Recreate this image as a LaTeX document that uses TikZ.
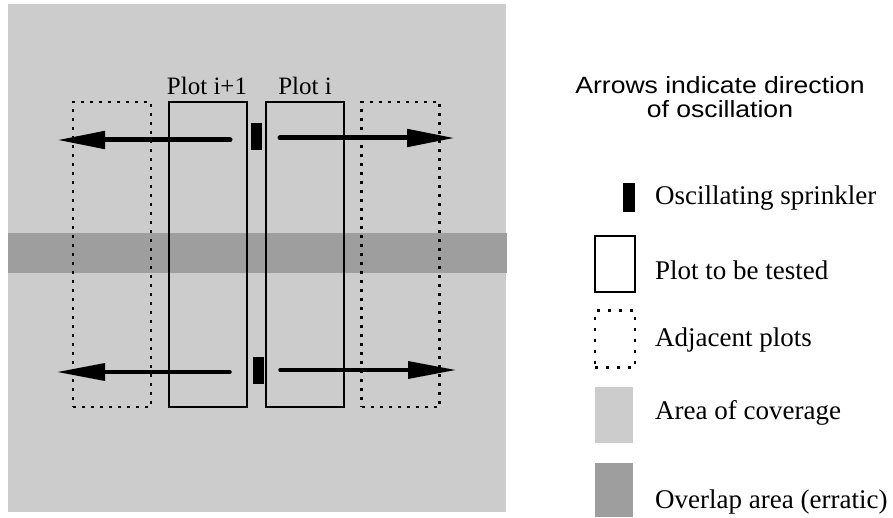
\documentclass[tikz,border=0pt]{standalone}
\usepackage{fontspec}
\setmainfont{Liberation Serif}
\newfontfamily\helv{Liberation Sans}
\usetikzlibrary{arrows.meta}
\definecolor{cover}{gray}{0.80}
\definecolor{overlap}{gray}{0.62}
\begin{document}
\begin{tikzpicture}[x=1pt,y=-1pt,
  plotbox/.style={draw, line width=2pt, inner sep=0pt, outer sep=0pt, minimum width=78pt, minimum height=305pt},
  adjbox/.style={draw, line width=2.6pt, dash pattern=on 3pt off 6pt, inner sep=0pt, outer sep=0pt, minimum width=78pt, minimum height=305pt},
  sprink/.style={fill=black, inner sep=0pt, outer sep=0pt, minimum width=11pt, minimum height=27pt},
  osc/.style={line width=#1, line cap=round, -{Triangle[length=48pt,width=17pt]}},
  plotlbl/.style={font=\fontsize{25}{27}\selectfont, inner sep=0pt},
  legtxt/.style={font=\fontsize{27}{29}\selectfont, inner sep=0pt, anchor=west},
  legicon/.style={inner sep=0pt, outer sep=0pt, minimum width=40pt, minimum height=56pt},
  ]
\useasboundingbox (0,0) rectangle (893,518);
% coverage background
\fill[cover] (8,4) rectangle (506,512);
\fill[overlap] (8,233) rectangle (507,273);
% plots
\node[adjbox] (adjL) at (112,254.5) {};
\node[plotbox] (pB) at (208,254.5) {};
\node[plotbox] (pA) at (304.5,254.5) {};
\node[adjbox] (adjR) at (400.5,254.5) {};
\node[plotlbl] (lB) at (207,86) {Plot i+1};
\node[plotlbl] (lA) at (305,86) {Plot i};
% sprinklers
\node[sprink] (s1) at (256.5,136.5) {};
\node[sprink] (s2) at (258.5,370) {};
% oscillation arrows
\coordinate (a1s) at (230,140);
\coordinate (a1e) at (57,140);
\coordinate (a2s) at (280,138);
\coordinate (a2e) at (455,138);
\coordinate (a3s) at (230,372);
\coordinate (a3e) at (57,372);
\coordinate (a4s) at (280,370);
\coordinate (a4e) at (456,370);
\draw[osc=5pt] (a1s) -- (a1e);
\draw[osc=5pt] (a2s) -- (a2e);
\draw[osc=3.5pt] (a3s) -- (a3e);
\draw[osc=3.5pt] (a4s) -- (a4e);
% legend
\node[font=\helv\fontsize{23.5}{24}\selectfont, align=center, inner sep=0pt] (title) at (720,97) {\scalebox{1.13}[1]{Arrows indicate direction}\\\scalebox{1.13}[1]{of oscillation}};
\node[sprink, minimum width=12pt, minimum height=29pt] (ls) at (629,197.5) {};
\node[legtxt] (t1) at (655,198) {Oscillating sprinkler};
\node[legicon, draw, line width=2pt] (lp) at (615,264) {};
\node[legtxt] (t2) at (655,270) {Plot to be tested};
\node[legicon, draw, line width=2.6pt, dash pattern=on 3pt off 8pt, minimum height=57pt] (la) at (615,339) {};
\node[legtxt] (t3) at (655,340) {Adjacent plots};
\node[legicon, fill=cover, minimum width=38pt] (lc) at (614,415) {};
\node[legtxt] (t4) at (655,413) {Area of coverage};
\node[legicon, fill=overlap, minimum width=38pt, minimum height=54pt] (lo) at (614,490) {};
\node[legtxt] (t5) at (655,502) {Overlap area (erratic)};
\end{tikzpicture}
\end{document}
